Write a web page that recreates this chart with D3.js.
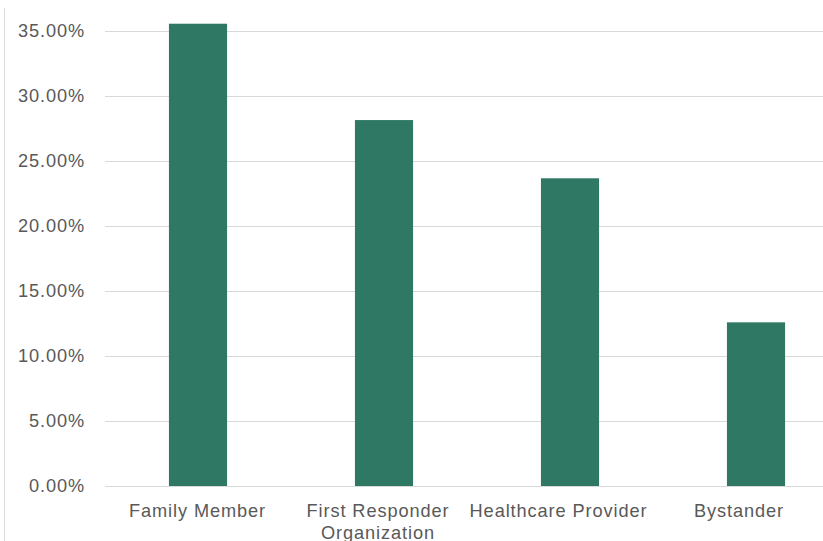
<!DOCTYPE html>
<html>
<head>
<meta charset="utf-8">
<script src="https://cdn.jsdelivr.net/npm/d3@7"></script>
<style>
  html, body { margin: 0; padding: 0; background: #fff; overflow: hidden; }
  svg { display: block; }
  text { font-family: "Liberation Sans", Arial, sans-serif; fill: #595959; }
</style>
</head>
<body>
<svg id="chart" width="823" height="541"></svg>
<script>
// Share of responses by who responded
const categories = ["Family Member", "First Responder Organization", "Healthcare Provider", "Bystander"];
const labelLines = [["Family Member"], ["First Responder", "Organization"], ["Healthcare Provider"], ["Bystander"]];
const values = [0.3556, 0.2815, 0.2367, 0.1259];
const yTicks = [0, 0.05, 0.10, 0.15, 0.20, 0.25, 0.30, 0.35];

const svg = d3.select("#chart");
const W = 823, H = 541;

const plot = { left: 105, right: 849, top: 31, bottom: 486 };

const x = d3.scaleBand()
  .domain(categories)
  .range([plot.left, plot.right])
  .paddingInner(0.6875)
  .paddingOuter(0.34375);

// category labels sit on a slightly tighter spacing than the bars
const xLabel = d3.scaleBand()
  .domain(categories)
  .range([107.25, 829.25]);

const y = d3.scaleLinear()
  .domain([0, 0.35])
  .range([plot.bottom, plot.top]);

// outer frame edge on the left
svg.append("line")
  .attr("x1", 4.5).attr("x2", 4.5)
  .attr("y1", 8).attr("y2", H)
  .attr("stroke", "#d9d9d9").attr("stroke-width", 1);

// horizontal gridlines
svg.append("g")
  .selectAll("line")
  .data(yTicks)
  .join("line")
  .attr("x1", plot.left).attr("x2", W)
  .attr("y1", d => Math.round(y(d)) + 0.5)
  .attr("y2", d => Math.round(y(d)) + 0.5)
  .attr("stroke", "#d9d9d9").attr("stroke-width", 1);

// y-axis tick labels
const fmt = d3.format(".2%");
svg.append("g")
  .selectAll("text")
  .data(yTicks)
  .join("text")
  .attr("x", 85)
  .attr("y", d => y(d))
  .attr("dy", "0.35em")
  .attr("text-anchor", "end")
  .style("font-size", "18.2px")
  .style("letter-spacing", "0.9px")
  .text(d => fmt(d));

// bars
svg.append("g")
  .selectAll("rect")
  .data(values)
  .join("rect")
  .attr("x", (d, i) => x(categories[i]))
  .attr("width", x.bandwidth())
  .attr("y", d => y(d))
  .attr("height", d => y(0) - y(d))
  .attr("fill", "#2e7864");

// category labels
const lab = svg.append("g")
  .selectAll("text")
  .data(categories)
  .join("text")
  .attr("x", d => xLabel(d) + xLabel.bandwidth() / 2)
  .attr("y", 517)
  .attr("text-anchor", "middle")
  .style("font-size", "18.2px")
  .style("letter-spacing", "0.9px");

lab.each(function(d, i) {
  const t = d3.select(this);
  labelLines[i].forEach((line, k) => {
    t.append("tspan")
      .attr("x", xLabel(d) + xLabel.bandwidth() / 2)
      .attr("dy", k === 0 ? 0 : 21.5)
      .text(line);
  });
});
</script>
</body>
</html>
